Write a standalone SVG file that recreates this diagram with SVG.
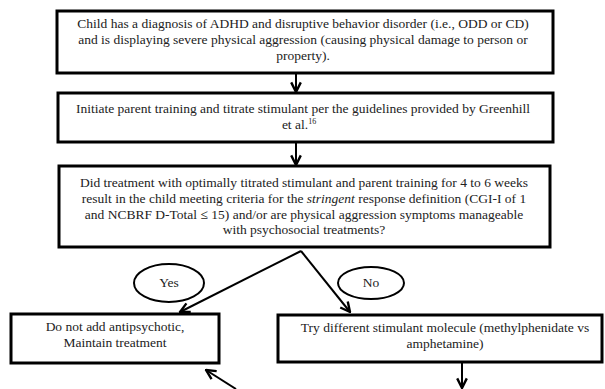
<svg xmlns="http://www.w3.org/2000/svg" width="605" height="389" viewBox="0 0 605 389">
<style>
.box{fill:#fff;stroke:#000;stroke-width:3}
.oval{fill:#fff;stroke:#000;stroke-width:2}
.t{font-family:"Liberation Serif","Times New Roman",serif;font-size:13.5px;fill:#222;text-anchor:middle}
.c{fill:none;stroke:#000;stroke-width:2;stroke-linejoin:miter}
</style>
<defs>
<marker id="ah" viewBox="0 0 10 10" refX="9" refY="5" markerWidth="6" markerHeight="6" orient="auto" markerUnits="strokeWidth">
<path d="M1,1 L9,5 L1,9" fill="none" stroke="#000" stroke-width="2"/>
</marker>
</defs>
<rect width="605" height="389" fill="#fff"/>
<g id="connectors">
<line class="c" x1="296" y1="73" x2="296" y2="92" marker-end="url(#ah)"/>
<line class="c" x1="296" y1="143" x2="296" y2="165" marker-end="url(#ah)"/>
<path class="c" d="M301,251 L180,312" marker-end="url(#ah)"/>
<path class="c" d="M301,251 L350,312" marker-end="url(#ah)"/>
<line class="c" x1="462" y1="362" x2="462" y2="388" marker-end="url(#ah)"/>
<line class="c" x1="236" y1="389" x2="206" y2="370" marker-end="url(#ah)"/>
</g>
<g id="n1">
<rect class="box" x="57" y="11" width="496" height="62"/>
<text class="t" x="303" y="28">Child has a diagnosis of ADHD and disruptive behavior disorder (i.e., ODD or CD)</text>
<text class="t" x="303" y="44">and is displaying severe physical aggression (causing physical damage to person or</text>
<text class="t" x="303" y="60">property).</text>
</g>
<g id="n2">
<rect class="box" x="58" y="93" width="495" height="49"/>
<text class="t" x="303" y="113">Initiate parent training and titrate stimulant per the guidelines provided by Greenhill</text>
<text class="t" x="299" y="129">et al.<tspan font-size="8" dy="-5">16</tspan></text>
</g>
<g id="n3">
<rect class="box" x="59" y="166" width="491" height="81"/>
<text class="t" x="304" y="187">Did treatment with optimally titrated stimulant and parent training for 4 to 6 weeks</text>
<text class="t" x="304" y="203">result in the child meeting criteria for the <tspan font-style="italic">stringent</tspan> response definition (CGI-I of 1</text>
<text class="t" x="304" y="219">and NCBRF D-Total ≤ 15) and/or are physical aggression symptoms manageable</text>
<text class="t" x="304" y="234">with psychosocial treatments?</text>
</g>
<g id="yes">
<ellipse class="oval" cx="169" cy="283" rx="35" ry="19"/>
<text class="t" x="169" y="287">Yes</text>
</g>
<g id="no">
<ellipse class="oval" cx="371" cy="283" rx="33" ry="16"/>
<text class="t" x="371" y="287">No</text>
</g>
<g id="n4">
<rect class="box" x="11" y="314" width="208" height="49"/>
<text class="t" x="115" y="331">Do not add antipsychotic,</text>
<text class="t" x="115" y="347">Maintain treatment</text>
</g>
<g id="n5">
<rect class="box" x="278" y="315" width="324" height="47"/>
<text class="t" x="445" y="332">Try different stimulant molecule (methylphenidate vs</text>
<text class="t" x="445" y="348">amphetamine)</text>
</g>
</svg>
